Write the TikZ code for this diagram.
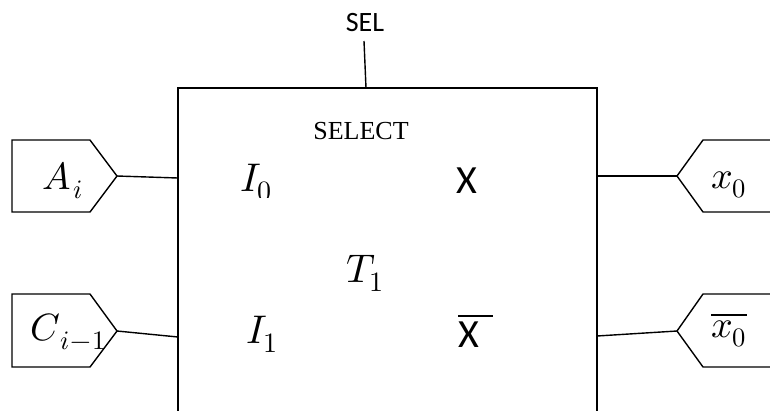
\documentclass[tikz,border=0pt]{standalone}
\usepackage{fontspec}
\usepackage{unicode-math}
\setmathfont{Latin Modern Math}
\newfontfamily\carl{Carlito}
\newfontfamily\tms{Liberation Serif}
\begin{document}
\begin{tikzpicture}[x=1pt,y=-1pt,
  wire/.style={line width=1.4pt},
  port/.style={line width=1.4pt},
  blockbox/.style={line width=2pt},
  lbl/.style={inner sep=0pt,outer sep=0pt,anchor=base west},
  mbig/.style={lbl,font=\fontsize{40}{48}\selectfont},
  msmall/.style={lbl,font=\fontsize{38}{44}\selectfont},
  sanslbl/.style={lbl,font=\carl\fontsize{40}{48}\selectfont}]
\useasboundingbox (0,0) rectangle (770,410);
% main block
\draw[blockbox] (178,88) rectangle (597,440);
\coordinate (bL1) at (178,178);
\coordinate (bL2) at (178,337);
\coordinate (bR1) at (597,176);
\coordinate (bR2) at (597,336);
\coordinate (bTop) at (366,88);
% SEL
\node[inner sep=0pt,anchor=base,font=\carl\fontsize{28}{32}\selectfont] (sel) at (365,31) {SEL};
\coordinate (selEnd) at (364,41);
\draw[wire] (selEnd) -- (bTop);
\node[inner sep=0pt,anchor=base,font=\tms\fontsize{26}{30}\selectfont] (select) at (361,139) {SELECT};
% left ports
\draw[port] (12,140) -- (90,140) -- (117,176) coordinate (tipA) -- (90,212) -- (12,212) -- cycle;
\draw[port] (12,294) -- (90,294) -- (117,331) coordinate (tipC) -- (90,367) -- (12,367) -- cycle;
\draw[wire] (tipA) -- (bL1);
\draw[wire] (tipC) -- (bL2);
\node[msmall] (ai) at (42,189) {$A_{\mkern2mu i}$};
\node[msmall] (ci) at (30,340) {$C_{\mkern2mu i\mkern1mu-\mkern1mu1}$};
% right ports
\draw[port] (790,140) -- (703,140) -- (677,176) coordinate (tipX) -- (703,212) -- (790,212);
\draw[port] (790,294) -- (703,294) -- (677,331) coordinate (tipXb) -- (703,367) -- (790,367);
\draw[wire] (bR1) -- (tipX);
\draw[wire] (bR2) -- (tipXb);
\node[msmall] (x0) at (711,188) {$x_0$};
\node[msmall] (x0b) at (711,337) {$\overline{x_0}$};
% inside labels
\begin{scope}
\clip (200,130) rectangle (320,197);
\node[mbig] (i0) at (240,191) {$I_0$};
\end{scope}
\node[sanslbl] (xo) at (456,193) {X};
\node[mbig] (t1) at (346,282) {$T_1$};
\node[mbig] (i1) at (246,343) {$I_1$};
\node[sanslbl] (xb) at (458,347) {$\overline{\hbox{\carl X\hspace{14pt}}}$};
\end{tikzpicture}
\end{document}
